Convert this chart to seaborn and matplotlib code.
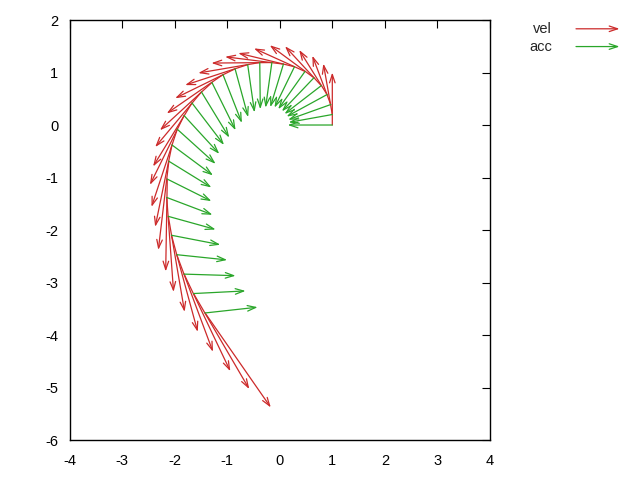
import matplotlib
matplotlib.use('Agg')
import matplotlib.pyplot as plt
import seaborn as sns

# points along the path (tails of both arrows)
pos_x = [1.00, 1.00, 0.97, 0.90, 0.79, 0.65, 0.48, 0.28, 0.07, -0.15, -0.38, -0.61, -0.85, -1.08, -1.29,
         -1.49, -1.67, -1.82, -1.95, -2.05, -2.11, -2.14, -2.15, -2.12, -2.06, -1.96, -1.82, -1.64, -1.42]
pos_y = [0.00, 0.20, 0.39, 0.58, 0.75, 0.90, 1.02, 1.11, 1.16, 1.19, 1.19, 1.15, 1.07, 0.96, 0.81,
         0.63, 0.42, 0.18, -0.08, -0.38, -0.69, -1.03, -1.38, -1.74, -2.10, -2.47, -2.84, -3.21, -3.58]

# velocity vectors
vel_x = [0.00, -0.17, -0.35, -0.53, -0.69, -0.84, -0.97, -1.07, -1.11, -1.15, -1.17, -1.19, -1.14, -1.07, -0.99,
         -0.88, -0.74, -0.65, -0.49, -0.32, -0.20, -0.03, 0.13, 0.31, 0.50, 0.69, 0.88, 1.06, 1.25]
vel_y = [1.00, 0.97, 0.93, 0.85, 0.75, 0.62, 0.44, 0.26, 0.14, -0.01, -0.20, -0.39, -0.56, -0.74, -0.91,
         -1.05, -1.21, -1.32, -1.48, -1.56, -1.69, -1.76, -1.80, -1.82, -1.84, -1.85, -1.85, -1.82, -1.80]

# acceleration vectors
acc_x = [-0.85, -0.83, -0.81, -0.77, -0.70, -0.61, -0.51, -0.38, -0.25, -0.12, 0.01, 0.13, 0.25, 0.36, 0.45,
         0.53, 0.61, 0.67, 0.73, 0.78, 0.81, 0.84, 0.87, 0.90, 0.93, 0.96, 0.98, 0.99, 1.00]
acc_y = [0.00, -0.15, -0.29, -0.42, -0.54, -0.64, -0.72, -0.78, -0.82, -0.86, -0.89, -0.91, -0.92, -0.92, -0.91,
         -0.87, -0.80, -0.73, -0.66, -0.58, -0.50, -0.42, -0.33, -0.25, -0.18, -0.10, -0.03, 0.05, 0.11]

x_ticks = [-4, -3, -2, -1, 0, 1, 2, 3, 4]
y_ticks = [-6, -5, -4, -3, -2, -1, 0, 1, 2]

sns.set_style('white')
plt.rcParams['font.family'] = ['Liberation Sans', 'DejaVu Sans']
plt.rcParams['axes.unicode_minus'] = False

red = '#cc2a2a'
green = '#2aa62a'
head = '->,head_length=0.6,head_width=0.2'

fig = plt.figure(figsize=(6.4, 4.8), dpi=100)
ax = fig.add_axes([0.1086, 0.0833, 0.657, 0.875])

# velocity arrows
for x, y, u, v in zip(pos_x, pos_y, vel_x, vel_y):
    ax.annotate('', xy=(x + u, y + v), xytext=(x, y),
                arrowprops=dict(arrowstyle=head, color=red, lw=0.9, shrinkA=0, shrinkB=0))

# acceleration arrows
for x, y, u, v in zip(pos_x, pos_y, acc_x, acc_y):
    ax.annotate('', xy=(x + u, y + v), xytext=(x, y),
                arrowprops=dict(arrowstyle=head, color=green, lw=0.9, shrinkA=0, shrinkB=0))

ax.set_xlim(-4, 4)
ax.set_ylim(-6, 2)
ax.set_xticks(x_ticks)
ax.set_yticks(y_ticks)
ax.tick_params(direction='in', top=True, right=True, length=6, width=0.8,
               labelsize=10.5, colors='black')
ax.tick_params(axis='x', pad=10)
ax.tick_params(axis='y', pad=8)
for s in ax.spines.values():
    s.set_color('black')
    s.set_linewidth(1)

# legend, gnuplot style
fig.text(0.8625, 0.940, 'vel', ha='right', va='center', fontsize=10.5)
fig.text(0.8625, 0.903, 'acc', ha='right', va='center', fontsize=10.5)
ax.annotate('', xy=(0.968, 0.940), xytext=(0.9, 0.940), xycoords='figure fraction',
            arrowprops=dict(arrowstyle=head, color=red, lw=0.9, shrinkA=0, shrinkB=0))
ax.annotate('', xy=(0.968, 0.903), xytext=(0.9, 0.903), xycoords='figure fraction',
            arrowprops=dict(arrowstyle=head, color=green, lw=0.9, shrinkA=0, shrinkB=0))

fig.savefig('out.png', dpi=100)
